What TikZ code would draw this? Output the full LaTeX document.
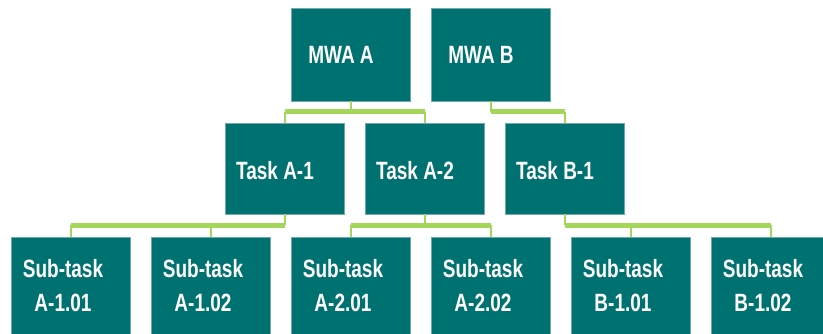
\documentclass[tikz,border=0pt]{standalone}
\usepackage{fontspec}
\newfontfamily\boxfont{Liberation Sans}[FakeStretch=0.76]
\definecolor{boxteal}{RGB}{0,113,113}
\definecolor{boxedge}{RGB}{110,170,170}
\definecolor{linkgreen}{RGB}{164,214,90}
\tikzset{
  wbox/.style={fill=boxteal, draw=boxedge, line width=0.6pt, minimum width=119pt, inner sep=0pt},
  lvlone/.style={wbox, minimum height=93pt},
  lvltwo/.style={wbox, minimum height=91pt},
  lvlthree/.style={wbox, minimum height=98pt},
  lbl/.style={xshift=-10pt, text=white, align=center, inner sep=0pt,
    font=\boxfont\bfseries\fontsize{25}{34}\selectfont},
  stem/.style={draw=linkgreen, line width=2pt},
  bar/.style={draw=linkgreen, line width=5pt}
}
\begin{document}
\begin{tikzpicture}[x=1pt, y=-1pt]
\useasboundingbox (0,0) rectangle (823,333);
\clip (0,0) rectangle (823,333);
\fill[white] (0,0) rectangle (823,333);
\coordinate (b1) at (0,111.5);
\coordinate (b2) at (0,225);
% level 1
\node[lvlone, label={[lbl]center:MWA A}] (MA) at (351,54.5) {};
\node[lvlone, label={[lbl]center:MWA B}] (MB) at (491,54.5) {};
% level 2
\node[lvltwo, label={[lbl, yshift=-2pt]center:Task A-1}] (TA1) at (285,168.5) {};
\node[lvltwo, label={[lbl, yshift=-2pt]center:Task A-2}] (TA2) at (425,168.5) {};
\node[lvltwo, label={[lbl, yshift=-2pt]center:Task B-1}] (TB1) at (565,168.5) {};
% level 3
\node[lvlthree, label={[lbl, xshift=2pt]center:Sub-task\\A-1.01}] (S1) at (71,286) {};
\node[lvlthree, label={[lbl, xshift=2pt]center:Sub-task\\A-1.02}] (S2) at (211,286) {};
\node[lvlthree, label={[lbl, xshift=2pt]center:Sub-task\\A-2.01}] (S3) at (351,286) {};
\node[lvlthree, label={[lbl, xshift=2pt]center:Sub-task\\A-2.02}] (S4) at (491,286) {};
\node[lvlthree, label={[lbl, xshift=2pt]center:Sub-task\\B-1.01}] (S5) at (631,286) {};
\node[lvlthree, label={[lbl, xshift=2pt]center:Sub-task\\B-1.02}] (S6) at (771,286) {};
% connectors MWA A
\draw[stem] (MA.south) -- (MA.south |- b1);
\draw[stem] (TA1.north |- b1) -- (TA1.north);
\draw[stem] (TA2.north |- b1) -- (TA2.north);
\draw[bar] (TA1.north |- b1) -- (TA2.north |- b1);
% connectors MWA B
\draw[stem] (MB.south) -- (MB.south |- b1);
\draw[stem] (TB1.north |- b1) -- (TB1.north);
\draw[bar] (MB.south |- b1) -- (TB1.north |- b1);
% Task A-1
\draw[stem] (TA1.south) -- (TA1.south |- b2);
\draw[stem] (S1.north |- b2) -- (S1.north);
\draw[stem] (S2.north |- b2) -- (S2.north);
\draw[bar] (S1.north |- b2) -- (TA1.south |- b2);
% Task A-2
\draw[stem] (TA2.south) -- (TA2.south |- b2);
\draw[stem] (S3.north |- b2) -- (S3.north);
\draw[stem] (S4.north |- b2) -- (S4.north);
\draw[bar] (S3.north |- b2) -- (S4.north |- b2);
% Task B-1
\draw[stem] (TB1.south) -- (TB1.south |- b2);
\draw[stem] (S5.north |- b2) -- (S5.north);
\draw[stem] (S6.north |- b2) -- (S6.north);
\draw[bar] (TB1.south |- b2) -- (S6.north |- b2);
\end{tikzpicture}
\end{document}
